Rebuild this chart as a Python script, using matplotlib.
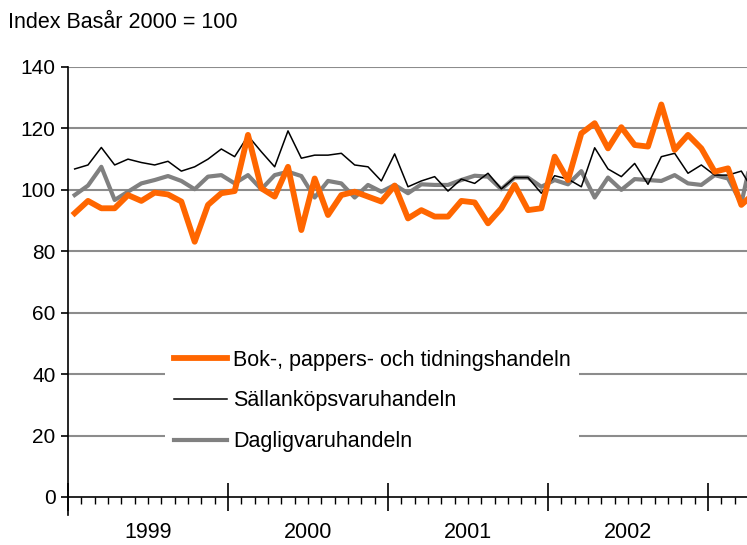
import matplotlib
matplotlib.use("Agg")
import matplotlib.pyplot as plt
import numpy as np

plt.rcParams['font.family'] = ['Liberation Sans', 'DejaVu Sans']

years = ['1999', '2000', '2001', '2002']
yticks = [0, 20, 40, 60, 80, 100, 120, 140]

bok = [92.4, 96.4, 94.0, 94.0, 98.3, 96.4, 99.1, 98.5, 96.2, 83.1, 95.1, 98.9,
       99.6, 117.9, 100.5, 97.8, 107.5, 86.9, 103.7, 91.8, 98.3, 99.4, 97.8, 96.2,
       101.4, 90.7, 93.4, 91.3, 91.3, 96.4, 95.9, 89.1, 94.0, 101.6, 93.4, 94.0,
       110.8, 103.2, 118.4, 121.7, 113.5, 120.4, 114.6, 114.1, 127.8, 113.0, 117.9, 113.5,
       105.9, 107.0, 95.1, 99.0]
sallan = [106.8, 108.1, 113.8, 108.1, 110.0, 108.9, 108.1, 109.3, 106.1, 107.5, 110.0, 113.3,
          110.8, 117.6, 112.4, 107.5, 119.2, 110.3, 111.3, 111.3, 111.9, 108.1, 107.5, 102.9,
          111.7, 101.0, 102.9, 104.3, 99.6, 103.5, 102.1, 105.4, 100.3, 104.0, 104.0, 98.9,
          104.6, 103.5, 101.0, 113.7, 106.8, 104.3, 108.6, 101.8, 110.8, 111.9, 105.4, 108.1,
          104.8, 104.8, 106.1, 99.0]
dagl = [98.3, 101.4, 107.5, 96.7, 99.4, 102.1, 103.2, 104.5, 102.9, 100.2, 104.3, 104.8,
        102.1, 104.8, 100.2, 104.8, 105.9, 104.5, 97.5, 102.9, 102.1, 97.5, 101.6, 99.4,
        101.6, 98.9, 101.8, 101.6, 101.6, 103.2, 104.6, 104.3, 100.2, 104.0, 104.0, 101.0,
        103.2, 101.8, 106.1, 97.5, 104.0, 100.0, 103.5, 103.2, 102.9, 104.8, 102.1, 101.6,
        104.8, 103.7, 95.6, 115.0]

labels = ['Bok-, pappers- och tidningshandeln', 'Sällanköpsvaruhandeln', 'Dagligvaruhandeln']

W, H = 747, 545
fig = plt.figure(figsize=(W / 100, H / 100), dpi=100)
left_px, right_px, top_px, bot_px = 68, 747, 67, 515.4
ax = fig.add_axes([left_px / W, 1 - bot_px / H, (right_px - left_px) / W, (bot_px - top_px) / H])

x = np.arange(len(bok)) + 0.5
ax.plot(x, dagl, color='#808080', lw=3.0, label=labels[2], zorder=3)
ax.plot(x, sallan, color='black', lw=1.1, label=labels[1], zorder=4)
ax.plot(x, bok, color='#FF6600', lw=4.2, label=labels[0], zorder=5)

ax.set_xlim(0, (right_px - left_px) / (160 / 12))
ax.set_ylim(-6, 140)
ax.set_yticks(yticks)
ax.set_yticklabels([str(v) for v in yticks], fontsize=15)
for v in yticks[1:]:
    ax.axhline(v, color='#8c8c8c', lw=1.5, zorder=1)

for s in ['top', 'right']:
    ax.spines[s].set_visible(False)
ax.spines['bottom'].set_position(('data', 0))
ax.spines['left'].set_linewidth(1.2)
ax.spines['bottom'].set_linewidth(1.2)

ax.set_xticks([0, 12, 24, 36, 48])
ax.set_xticklabels([])
ax.set_xticks(np.arange(1, 51), minor=True)
ax.tick_params(axis='x', which='major', direction='inout', length=20, width=1.2)
ax.tick_params(axis='x', which='minor', direction='out', length=5, width=1.0)
ax.tick_params(axis='y', which='major', direction='out', length=5, width=1.2, pad=4)

for i, yl in enumerate(years):
    ax.text(12 * i + 6, -8.3, yl, transform=ax.transData, ha='center', va='top',
            fontsize=15.5, clip_on=False)

h, l = ax.get_legend_handles_labels()
order = [2, 1, 0]
leg = ax.legend([h[i] for i in order], [l[i] for i in order], loc='upper left',
                bbox_to_anchor=(165 / W, 1 - 341 / H), bbox_transform=fig.transFigure,
                fontsize=15.5, frameon=True, fancybox=False, handlelength=2.5,
                handletextpad=0.25, labelspacing=0.92, borderpad=0.4, borderaxespad=0)
leg.get_frame().set_facecolor('white')
leg.get_frame().set_edgecolor('none')
leg.get_frame().set_alpha(1)
leg.set_zorder(10)

fig.text(8 / W, 1 - 22 / H, 'Index Basår 2000 = 100', fontsize=15.5, ha='left', va='center')

fig.savefig('out.png', dpi=100)
